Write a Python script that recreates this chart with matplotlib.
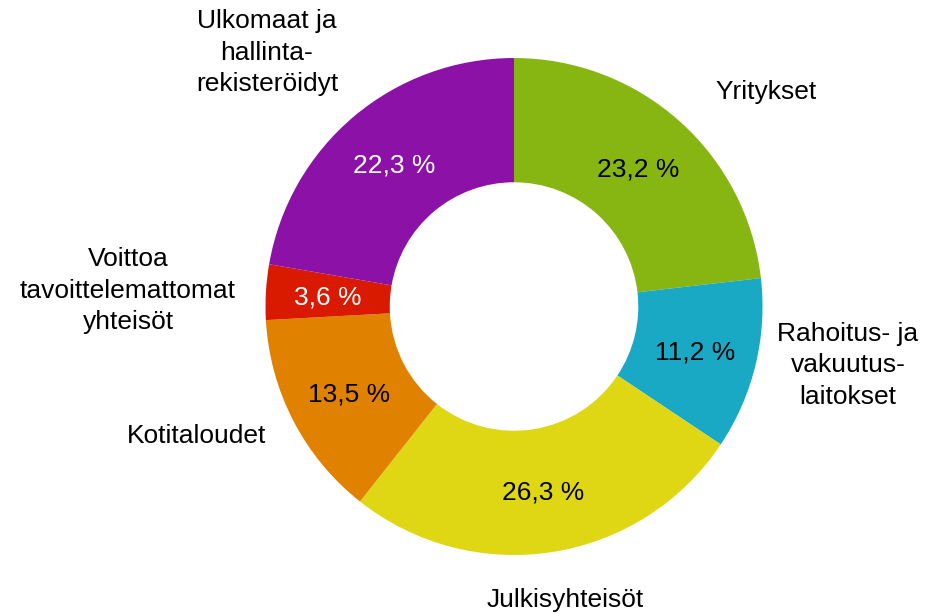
import numpy as np
import matplotlib
matplotlib.use("Agg")
import matplotlib.pyplot as plt

plt.rcParams['font.family'] = ['Liberation Sans', 'DejaVu Sans']

# Sektorit myötäpäivään ylhäältä alkaen
categories = ["Yritykset", "Rahoitus- ja\nvakuutus-\nlaitokset", "Julkisyhteisöt",
              "Kotitaloudet", "Voittoa\ntavoittelemattomat\nyhteisöt",
              "Ulkomaat ja\nhallinta-\nrekisteröidyt"]
shares = [23.2, 11.2, 26.3, 13.5, 3.6, 22.3]
colors = ["#87B512", "#19A9C5", "#DFD714", "#E08200", "#D91A00", "#8B11A7"]
pct_colors = ["black", "black", "black", "black", "white", "white"]

# Nimien paikat (akselin koordinaatit)
label_pos = [(1.014, 0.865), (1.344, -0.237), (0.205, -1.183),
             (-1.276, -0.523), (-1.553, 0.064), (-0.994, 1.022)]

fig = plt.figure(figsize=(9.28, 6.14), dpi=100)
ax = fig.add_axes([0.2861, 0.0961, 0.5356, 0.8094])

wedges, _ = ax.pie(shares, colors=colors, startangle=90, counterclock=False,
                   radius=1.0, wedgeprops=dict(width=0.5, linewidth=0))
ax.set_aspect('auto')
ax.set_xlim(-1, 1)
ax.set_ylim(-1, 1)
ax.axis('off')

for w, val, c in zip(wedges, shares, pct_colors):
    ang = np.deg2rad((w.theta1 + w.theta2) / 2)
    ax.text(0.75 * np.cos(ang), 0.75 * np.sin(ang) - 0.008,
            f"{val:.1f} %".replace(".", ","), ha="center", va="center",
            fontsize=19, color=c)

for name, (x, y) in zip(categories, label_pos):
    ax.text(x, y, name, ha="center", va="center", fontsize=19, color="black",
            multialignment="center", linespacing=1.4, clip_on=False)

fig.savefig("out.png", dpi=100)
